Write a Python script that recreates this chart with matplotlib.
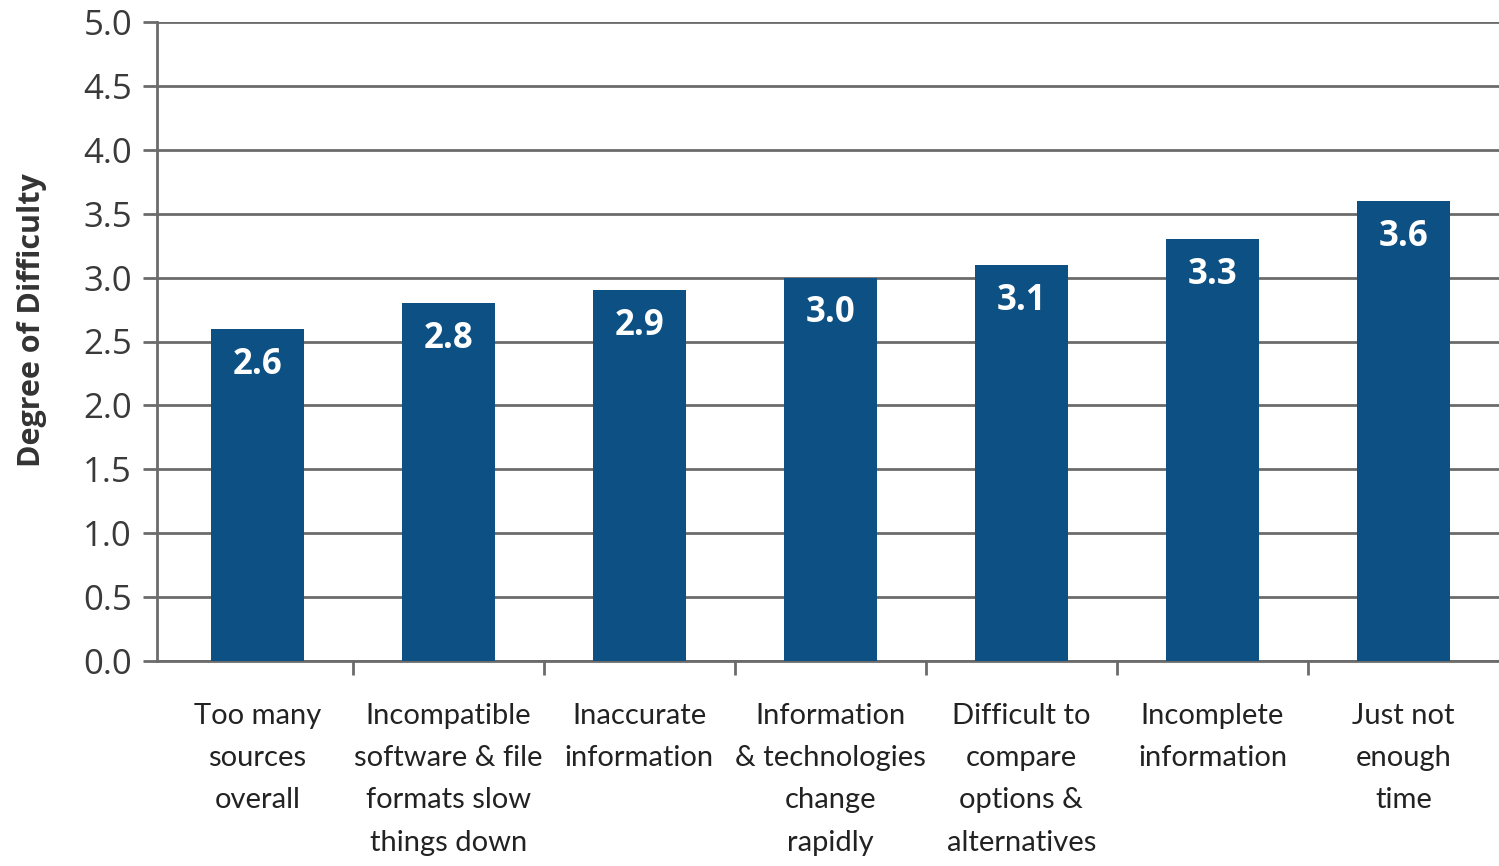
import numpy as np
import matplotlib.pyplot as plt
import matplotlib.patheffects as pe
from matplotlib.ticker import FixedLocator

categories = ['Too many\nsources\noverall',
              'Incompatible\nsoftware & file\nformats slow\nthings down',
              'Inaccurate\ninformation',
              'Information\n& technologies\nchange\nrapidly',
              'Difficult to\ncompare\noptions &\nalternatives',
              'Incomplete\ninformation',
              'Just not\nenough\ntime']
values = [2.6, 2.8, 2.9, 3.0, 3.1, 3.3, 3.6]
value_labels = ['2.6', '2.8', '2.9', '3.0', '3.1', '3.3', '3.6']
yticks = [0.0, 0.5, 1.0, 1.5, 2.0, 2.5, 3.0, 3.5, 4.0, 4.5, 5.0]

bar_color = '#0d5083'
grid_color = '#6b6b6b'

fig = plt.figure(figsize=(14.99, 8.66), dpi=100)
ax = fig.add_axes([157 / 1499, 1 - 661 / 866, 1 - 157 / 1499, (661 - 22) / 866])

x = np.arange(len(categories))

# grid behind bars
ax.set_axisbelow(True)
ax.yaxis.grid(True, color=grid_color, linewidth=2)

ax.bar(x, values, width=0.485, color=bar_color, zorder=3,
       path_effects=[pe.SimplePatchShadow(offset=(0, 0), shadow_rgbFace='#000000', alpha=0.15),
                     pe.Normal()])

for xi, v, lab in zip(x, values, value_labels):
    ax.text(xi, v - 0.28, lab, ha='center', va='center', color='white',
            fontsize=25, fontweight='bold', family='Open Sans', zorder=4)

ax.set_ylim(0, 5)
ax.set_xlim(-0.525, 6.5)
ax.set_yticks(yticks)
ax.set_yticklabels([f'{t:.1f}' for t in yticks],
                   fontsize=25, family='Open Sans', color='#3a3a3a')

ax.set_xticks(x)
ax.set_xticklabels(categories, fontsize=21, family='Lato',
                   color='#222222', linespacing=1.78)
ax.xaxis.set_minor_locator(FixedLocator(np.arange(0.5, 6.0, 1.0)))
ax.tick_params(axis='x', which='major', length=0, pad=30)
ax.tick_params(axis='x', which='minor', length=10, width=2, color=grid_color)
ax.tick_params(axis='y', length=10, width=2, color=grid_color, pad=8)

for s in ['top', 'right']:
    ax.spines[s].set_visible(False)
for s in ['left', 'bottom']:
    ax.spines[s].set_color(grid_color)
    ax.spines[s].set_linewidth(2)

ax.set_ylabel('Degree of Difficulty', fontsize=22, fontweight='bold',
              family='Open Sans', color='#333333')
ax.yaxis.set_label_coords(-0.082, 0.534)

fig.savefig('out.png', dpi=100)
